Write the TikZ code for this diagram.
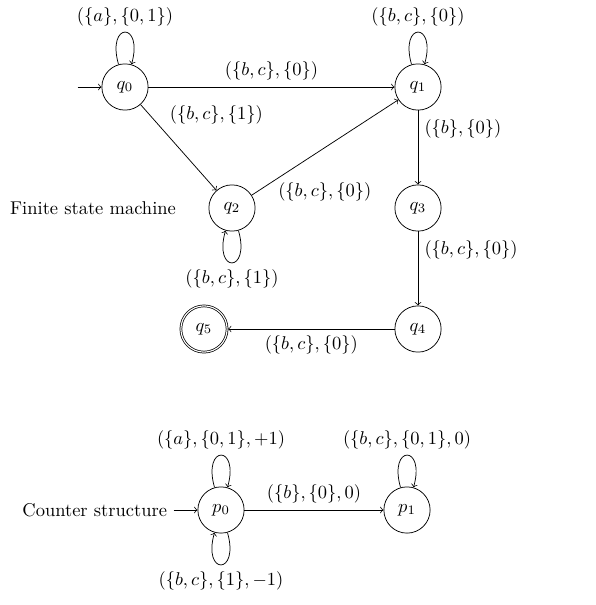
\documentclass[tikz,border=0pt]{standalone}
\usepackage{amsmath,amssymb}
\usetikzlibrary{automata}

\begin{document}
\begin{tikzpicture}[initial text={},
    loopup/.style={out=106, in=74, looseness=8, min distance=8.5mm},
    loopdown/.style={out=286, in=254, looseness=8, min distance=8.5mm}]
\useasboundingbox (0,0) rectangle (11.305,-11.495);
    % finite state machine
    \node[state, initial] (q0) at (2.375,-1.653) {$q_0$};
    \node[state] (q1) at (7.942,-1.653) {$q_1$};
    \node[state] (q2) at (4.408,-3.952) {$q_2$};
    \node[state] (q3) at (7.942,-3.952) {$q_3$};
    \node[state] (q4) at (7.942,-6.251) {$q_4$};
    \node[state, accepting] (q5) at (3.876,-6.251) {$q_5$};
    \node (fsm) at (1.767,-3.952) {Finite state machine};
    \path[->]
    (q0) edge[loopup] node[above]{$(\{a\},\{0,1\})$} (q0)
         edge node[above]{$(\{b,c\},\{0\})$} (q1)
         edge node[pos=.3, above right]{$(\{b,c\},\{1\})$} (q2)
    (q1) edge[loopup] node[above]{$(\{b,c\},\{0\})$} (q1)
         edge node[near start, right]{$(\{b\},\{0\})$} (q3)
    (q2) edge[loopdown] node[below]{$(\{b,c\},\{1\})$} (q2)
         edge node[pos=.2, below right, xshift=-5pt]{$(\{b,c\},\{0\})$} (q1)
    (q3) edge node[near start, right]{$(\{b,c\},\{0\})$} (q4)
    (q4) edge node[below]{$(\{b,c\},\{0\})$} (q5);

    % counter structure
    \node[state, initial, initial text={Counter structure}] (p0) at (4.199,-9.690) {$p_0$};
    \node[state] (p1) at (7.733,-9.690) {$p_1$};
    \path[->]
    (p0) edge[loopup] node[above]{$(\{a\},\{0,1\},+1)$} (p0)
         edge[loopdown] node[below]{$(\{b,c\},\{1\},-1)$} (p0)
         edge node[above]{$(\{b\},\{0\},0)$} (p1)
    (p1) edge[loopup] node[above]{$(\{b,c\},\{0,1\},0)$} (p1);
\end{tikzpicture}
\end{document}
